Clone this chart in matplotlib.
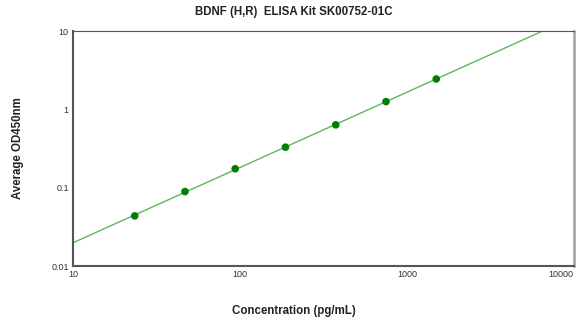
import numpy as np
import matplotlib
matplotlib.use("Agg")
import matplotlib.pyplot as plt

# standard curve data
conc = [23.44, 46.88, 93.75, 187.5, 375, 750, 1500]
od = [0.0438, 0.0895, 0.175, 0.330, 0.636, 1.26, 2.45]

x_ticks = [10, 100, 1000, 10000]
x_tick_labels = ["10", "100", "1000", "10000"]
y_ticks = [0.01, 0.1, 1, 10]
y_tick_labels = ["0.01", "0.1", "1", "10"]

plt.rcParams["font.family"] = ["Liberation Sans", "DejaVu Sans"]

fig = plt.figure(figsize=(5.79, 3.21), dpi=100)
ax = fig.add_axes([0.126, 0.171, 0.865, 0.732])

# log-log linear fit through the standards
lx = np.log10(conc)
ly = np.log10(od)
slope, icpt = np.polyfit(lx, ly, 1)
xf = np.logspace(1, 4, 200)
ax.plot(xf, 10 ** (icpt + slope * np.log10(xf)), color="#5cb85c", linewidth=1.0, zorder=2)
ax.scatter(conc, od, s=30, color="#008000", zorder=3, edgecolors="none")

ax.set_xscale("log")
ax.set_yscale("log")
ax.set_xlim(10, 10000)
ax.set_ylim(0.01, 10)
ax.set_xticks(x_ticks)
ax.set_xticklabels(x_tick_labels)
ax.set_yticks(y_ticks)
ax.set_yticklabels(y_tick_labels)
ax.minorticks_off()
ax.tick_params(length=0, labelsize=6.5, labelcolor="#333333", pad=3)
# last x label sits inside the figure edge
ax.get_xticklabels()[-1].set_horizontalalignment("right")

ax.spines["left"].set_color("#555555")
ax.spines["left"].set_linewidth(1.5)
ax.spines["bottom"].set_color("#555555")
ax.spines["bottom"].set_linewidth(1.5)
ax.spines["top"].set_color("#555555")
ax.spines["top"].set_linewidth(0.8)
ax.spines["right"].set_color("#a0a0a0")
ax.spines["right"].set_linewidth(1.8)

fig.text(0.508, 0.962, "BDNF (H,R)  ELISA Kit SK00752-01C", ha="center", va="center",
         fontsize=8.3, fontweight="bold", color="#222222")
fig.text(0.508, 0.03, "Concentration (pg/mL)", ha="center", va="center",
         fontsize=8.3, fontweight="bold", color="#222222")
fig.text(0.031, 0.54, "Average OD450nm", ha="center", va="center", rotation=90,
         fontsize=8.3, fontweight="bold", color="#222222")

plt.savefig("out.png", dpi=100)
